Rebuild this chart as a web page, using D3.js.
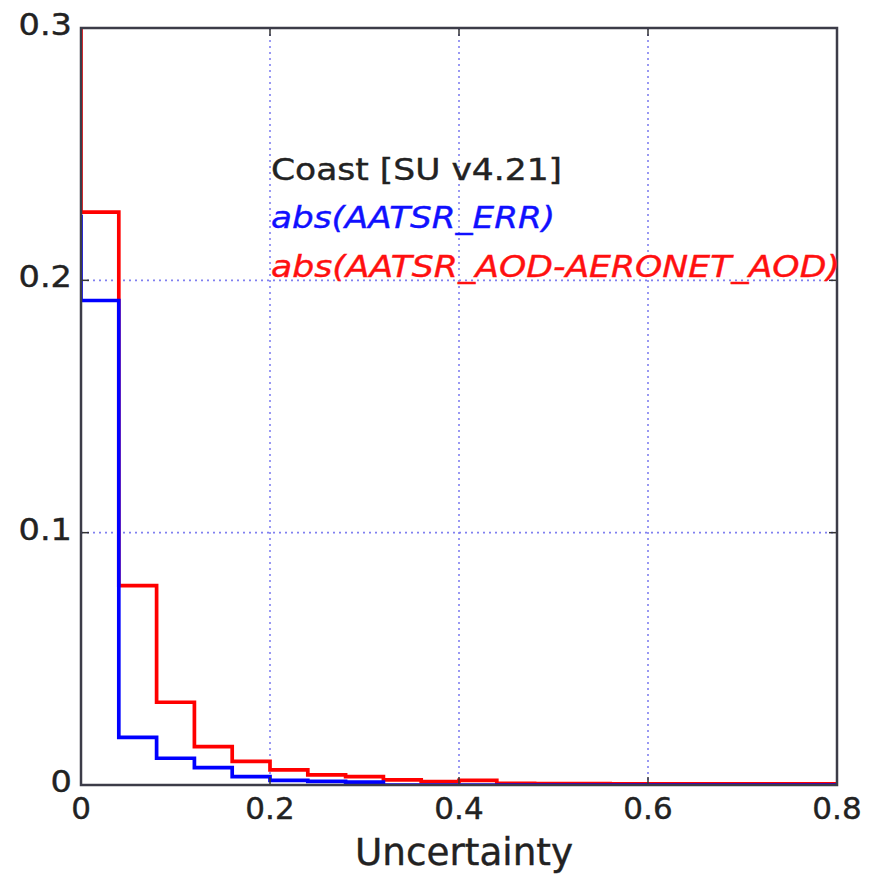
<!DOCTYPE html>
<html>
<head>
<meta charset="utf-8">
<script src="https://cdn.jsdelivr.net/npm/d3@7"></script>
<style>
  html, body { margin: 0; padding: 0; background: #fff; }
  svg { display: block; }
  text { font-family: "DejaVu Sans", sans-serif; }
</style>
</head>
<body>
<svg id="chart" width="877" height="875"></svg>
<script>
// Bin edges of the histograms (uncertainty), step width 0.04
const binEdges = [0, 0.04, 0.08, 0.12, 0.16, 0.20, 0.24, 0.28, 0.32, 0.36, 0.40,
                  0.44, 0.48, 0.52, 0.56, 0.60, 0.64, 0.68, 0.72, 0.76, 0.80];
// Normalised frequency; the first entry is the value at 0, each later entry
// is the height of the bin that ends at the matching edge.
const errValues = [0.226, 0.192, 0.0189, 0.0106, 0.0069, 0.0033, 0.0018, 0.0014, 0.0011,
                   0, 0, 0, 0, 0, 0, 0, 0, 0, 0, 0, 0];
const diffValues = [0.34, 0.227, 0.079, 0.0328, 0.0152, 0.0094, 0.006, 0.004, 0.0033,
                    0.002, 0.0013, 0.0018, 0.0007, 0.0006, 0.0006, 0.0005, 0.0005,
                    0.0005, 0.0005, 0.0005, 0.0005];
const xTicks = [0, 0.2, 0.4, 0.6, 0.8];
const xTickLabels = ["0", "0.2", "0.4", "0.6", "0.8"];
const yTicks = [0, 0.1, 0.2, 0.3];
const yTickLabels = ["0", "0.1", "0.2", "0.3"];
const titleText = "Coast [SU v4.21]";
const errLabel = "abs(AATSR_ERR)";
const diffLabel = "abs(AATSR_AOD-AERONET_AOD)";
const xTitle = "Uncertainty";

const svg = d3.select("#chart");
const L = 81, R = 837, T = 28, B = 785;

const x = d3.scaleLinear().domain([0, 0.8]).range([L, R]);
const y = d3.scaleLinear().domain([0, 0.3]).range([B, T]);

svg.append("defs").append("clipPath").attr("id", "plotclip")
  .append("rect").attr("x", L).attr("y", T).attr("width", R - L).attr("height", B - T);

// dotted grid
const grid = svg.append("g");
grid.selectAll("line.gx").data(xTicks.filter(d => d > 0 && d < 0.8)).join("line")
  .attr("x1", d => x(d)).attr("x2", d => x(d)).attr("y1", T).attr("y2", B)
  .attr("stroke", "#8080f0").attr("stroke-width", 1.6).attr("stroke-dasharray", "2,4");
grid.selectAll("line.gy").data(yTicks.filter(d => d > 0 && d < 0.3)).join("line")
  .attr("y1", d => y(d)).attr("y2", d => y(d)).attr("x1", L).attr("x2", R)
  .attr("stroke", "#8080f0").attr("stroke-width", 1.6).attr("stroke-dasharray", "2,4");

// step histograms
const step = d3.line().curve(d3.curveStepBefore);
const lines = svg.append("g").attr("clip-path", "url(#plotclip)");
lines.append("path")
  .attr("d", step(binEdges.map((e, i) => [x(e), y(diffValues[i])])))
  .attr("fill", "none").attr("stroke", "#ff0000").attr("stroke-width", 3.7);
lines.append("path")
  .attr("d", step(binEdges.map((e, i) => [x(e), y(errValues[i])])))
  .attr("fill", "none").attr("stroke", "#0000ff").attr("stroke-width", 3.7);

// inward ticks on all four sides
const ticks = svg.append("g").attr("stroke", "#333").attr("stroke-width", 1.5);
xTicks.forEach(d => {
  ticks.append("line").attr("x1", x(d)).attr("x2", x(d)).attr("y1", B).attr("y2", B - 8);
  ticks.append("line").attr("x1", x(d)).attr("x2", x(d)).attr("y1", T).attr("y2", T + 8);
});
yTicks.forEach(d => {
  ticks.append("line").attr("y1", y(d)).attr("y2", y(d)).attr("x1", L).attr("x2", L + 8);
  ticks.append("line").attr("y1", y(d)).attr("y2", y(d)).attr("x1", R).attr("x2", R - 8);
});

// frame
svg.append("rect").attr("x", L).attr("y", T).attr("width", R - L).attr("height", B - T)
  .attr("fill", "none").attr("stroke", "#3c3c48").attr("stroke-width", 2.5);

// tick labels
svg.append("g").selectAll("text").data(xTicks).join("text")
  .attr("x", d => x(d)).attr("y", B + 34)
  .attr("text-anchor", "middle").attr("font-size", 31).attr("fill", "#222")
  .attr("stroke", "#222").attr("stroke-width", 0.4)
  .text((d, i) => xTickLabels[i]);
const yl = svg.append("g").selectAll("text").data(yTicks).join("text")
  .attr("x", 72).attr("y", d => y(d) + 7)
  .attr("text-anchor", "end").attr("font-size", 30).attr("fill", "#222")
  .attr("stroke", "#222").attr("stroke-width", 0.4)
  .text((d, i) => yTickLabels[i]);
yl.each(function () {
  const w = this.getComputedTextLength();
  d3.select(this).attr("textLength", w * 1.12).attr("lengthAdjust", "spacingAndGlyphs");
});

// axis title
svg.append("text").attr("x", 464).attr("y", 865).attr("text-anchor", "middle")
  .attr("font-size", 37).attr("fill", "#222")
  .attr("stroke", "#222").attr("stroke-width", 0.4)
  .attr("textLength", 218).attr("lengthAdjust", "spacingAndGlyphs")
  .text(xTitle);

// annotation block
const notes = [
  { t: titleText, c: "#222", italic: false, yv: 180, k: 1.15 },
  { t: errLabel, c: "#1010ff", italic: true, yv: 228, k: 1.14 },
  { t: diffLabel, c: "#ff1010", italic: true, yv: 277, k: 1.155 }
];
notes.forEach(n => {
  const el = svg.append("text").attr("x", 271).attr("y", n.yv)
    .attr("font-size", 30).attr("fill", n.c)
    .attr("stroke", n.c).attr("stroke-width", 0.4)
    .attr("font-style", n.italic ? "italic" : "normal")
    .text(n.t);
  const w = el.node().getComputedTextLength();
  el.attr("textLength", w * n.k).attr("lengthAdjust", "spacingAndGlyphs");
});
</script>
</body>
</html>
